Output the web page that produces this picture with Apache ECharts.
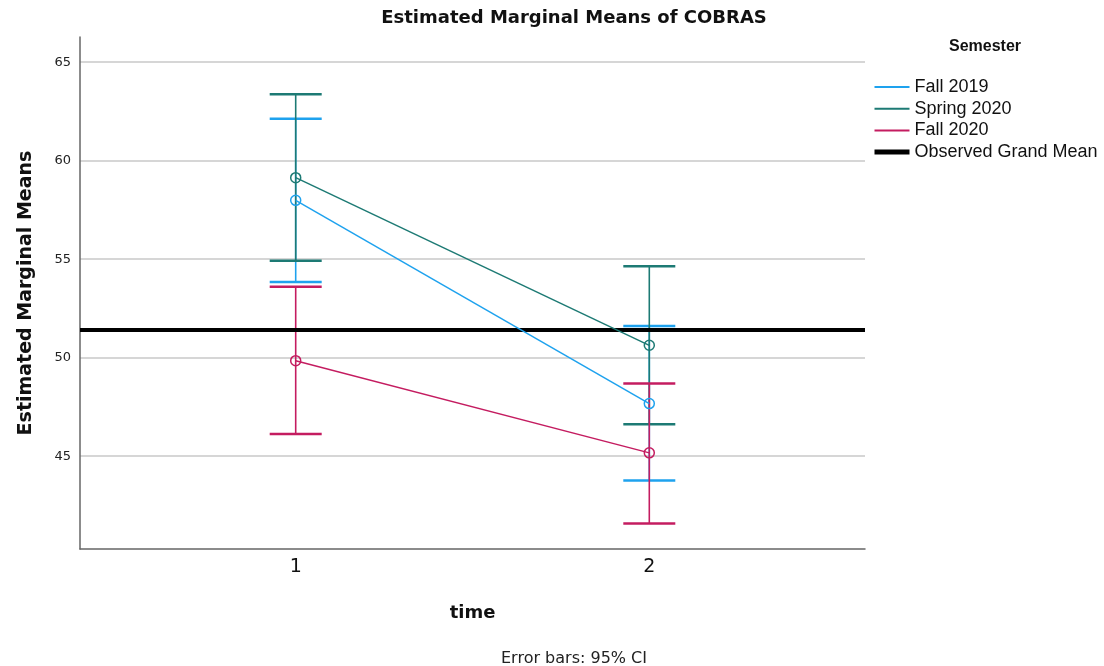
<!DOCTYPE html>
<html>
<head>
<meta charset="utf-8">
<script src="https://cdn.jsdelivr.net/npm/echarts@6/dist/echarts.min.js"></script>
<style>
html,body{margin:0;padding:0;background:#fff;}
#chart{width:1104px;height:666px;}
</style>
</head>
<body>
<div id="chart"></div>
<script>
// ---- data ----
const timePoints = [1, 2];
const yTicks = [45, 50, 55, 60, 65];
const seriesNames = ['Fall 2019', 'Spring 2020', 'Fall 2020'];
const fall2019Mean = [57.99, 47.67];
const fall2019Lower = [53.84, 43.77];
const fall2019Upper = [62.13, 51.61];
const spring2020Mean = [59.14, 50.63];
const spring2020Lower = [54.92, 46.62];
const spring2020Upper = [63.37, 54.64];
const fall2020Mean = [49.85, 45.17];
const fall2020Lower = [46.13, 41.58];
const fall2020Upper = [53.60, 48.69];
const grandMean = 51.44;
const grandMeanName = 'Observed Grand Mean';

// ---- styles ----
const colors = ['#1ea2ee', '#1d7a74', '#c41c60'];
const means = [fall2019Mean, spring2020Mean, fall2020Mean];
const lowers = [fall2019Lower, spring2020Lower, fall2020Lower];
const uppers = [fall2019Upper, spring2020Upper, fall2020Upper];

const chart = echarts.init(document.getElementById('chart'));

const series = [];
seriesNames.forEach((name, i) => {
  const color = colors[i];
  series.push({
    name: name + ' CI',
    type: 'custom',
    z: 2 + i,
    data: timePoints.map((t, k) => [t, lowers[i][k], uppers[i][k]]),
    encode: { x: 0, y: [1, 2] },
    silent: true,
    renderItem: function (params, api) {
      const x = api.value(0);
      const pLo = api.coord([x, api.value(1)]);
      const pHi = api.coord([x, api.value(2)]);
      const hw = 26;
      return {
        type: 'group',
        children: [
          { type: 'line', shape: { x1: pHi[0], y1: pHi[1], x2: pLo[0], y2: pLo[1] }, style: { stroke: color, lineWidth: 1.6 } },
          { type: 'line', shape: { x1: pHi[0] - hw, y1: pHi[1], x2: pHi[0] + hw, y2: pHi[1] }, style: { stroke: color, lineWidth: 2.5 } },
          { type: 'line', shape: { x1: pLo[0] - hw, y1: pLo[1], x2: pLo[0] + hw, y2: pLo[1] }, style: { stroke: color, lineWidth: 2.5 } }
        ]
      };
    }
  });
  series.push({
    name: name,
    type: 'line',
    z: 5 + i,
    data: timePoints.map((t, k) => [t, means[i][k]]),
    symbol: 'circle',
    symbolSize: 10,
    showAllSymbol: true,
    lineStyle: { color: color, width: 1.5 },
    itemStyle: { color: 'rgba(255,255,255,0)', borderColor: color, borderWidth: 1.5 },
    emphasis: { disabled: true }
  });
});

series.push({
  name: grandMeanName,
  type: 'line',
  z: 10,
  data: [],
  symbol: 'none',
  lineStyle: { color: '#000', width: 5 },
  itemStyle: { color: '#000' },
  markLine: {
    silent: true,
    symbol: 'none',
    label: { show: false },
    lineStyle: { color: '#000', width: 4, type: 'solid' },
    data: [{ yAxis: grandMean }]
  }
});

const legendData = seriesNames.map((n, i) => ({ name: n, lineStyle: { width: 2, color: colors[i] } }));
legendData.push({ name: grandMeanName, lineStyle: { width: 5, color: '#000' } });

const option = {
  animation: false,
  backgroundColor: '#fff',
  grid: { left: 80, right: 239, top: 37, bottom: 117, containLabel: false },
  xAxis: {
    type: 'value',
    min: 0.39,
    max: 2.61,
    name: 'time',
    nameLocation: 'middle',
    nameGap: 55,
    nameTextStyle: { fontFamily: 'DejaVu Sans', fontWeight: 'bold', fontSize: 18, color: '#111' },
    axisLine: { show: true, onZero: false, lineStyle: { color: '#666', width: 1.5 } },
    axisTick: { show: false },
    splitLine: { show: false },
    axisLabel: {
      customValues: timePoints,
      fontFamily: 'DejaVu Sans',
      fontSize: 19,
      color: '#111',
      margin: 9
    }
  },
  yAxis: {
    type: 'value',
    min: 40.29,
    max: 66.28,
    name: 'Estimated Marginal Means',
    nameLocation: 'middle',
    nameGap: 44,
    nameTextStyle: { fontFamily: 'DejaVu Sans', fontWeight: 'bold', fontSize: 19, color: '#111' },
    axisLine: { show: true, lineStyle: { color: '#666', width: 1.5 } },
    axisTick: { show: false, customValues: yTicks },
    axisLabel: {
      customValues: yTicks,
      fontFamily: 'DejaVu Sans',
      fontSize: 13,
      color: '#222',
      margin: 9
    },
    splitLine: { show: true, lineStyle: { color: '#c8c8c8', width: 1.5 } }
  },
  legend: {
    orient: 'vertical',
    left: 867,
    top: 72,
    itemWidth: 35,
    itemHeight: 14,
    itemGap: 1.7,
    itemStyle: { opacity: 0 },
    textStyle: { fontFamily: 'Liberation Sans', fontSize: 18, color: '#111', lineHeight: 20 },
    data: legendData,
    selectedMode: false
  },
  graphic: [
    { type: 'text', x: 574, y: 18, style: { text: 'Estimated Marginal Means of COBRAS', textAlign: 'center', textVerticalAlign: 'middle', font: 'bold 18px "DejaVu Sans"', fill: '#111' } },
    { type: 'text', x: 985, y: 47, style: { text: 'Semester', textAlign: 'center', textVerticalAlign: 'middle', font: 'bold 16px "Liberation Sans"', fill: '#111' } },
    { type: 'text', x: 574, y: 659, style: { text: 'Error bars: 95% CI', textAlign: 'center', textVerticalAlign: 'middle', font: '16px "DejaVu Sans"', fill: '#222' } }
  ],
  series: series
};
chart.setOption(option);
</script>
</body>
</html>
